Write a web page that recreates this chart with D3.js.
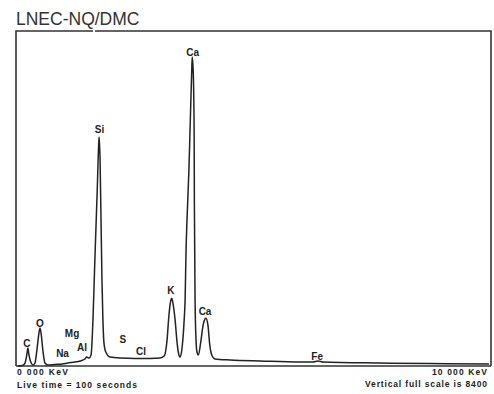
<!DOCTYPE html>
<html>
<head>
<meta charset="utf-8">
<script src="https://cdn.jsdelivr.net/npm/d3@7"></script>
<style>
  body { margin: 0; background: #fff; }
  svg { display: block; }
  .lbl { font-family: "Liberation Sans", Arial, sans-serif; font-weight: bold; font-size: 10px; fill: #222; }
  .foot { font-family: "Liberation Sans", Arial, sans-serif; font-weight: bold; font-size: 8.5px; fill: #222; }
</style>
</head>
<body>
<div id="chart"></div>
<script>
// spectrum: energy (keV) and counts
var energy = [0.04, 0.13, 0.19, 0.23, 0.25, 0.27, 0.32, 0.36, 0.40, 0.44, 0.48, 0.505, 0.53, 0.57, 0.61,
  0.67, 0.82, 0.97, 1.09, 1.24, 1.35, 1.45, 1.49, 1.54, 1.58, 1.62, 1.66, 1.71, 1.74, 1.75, 1.77, 1.79,
  1.81, 1.83, 1.85, 1.89, 1.98, 2.19, 2.51, 2.82, 3.03, 3.12, 3.18, 3.22, 3.26, 3.28, 3.30, 3.35, 3.39,
  3.43, 3.45, 3.49, 3.54, 3.56, 3.58, 3.60, 3.64, 3.67, 3.70, 3.71, 3.73, 3.75, 3.755, 3.77, 3.79, 3.81,
  3.84, 3.895, 3.94, 3.98, 4.00, 4.04, 4.08, 4.13, 4.19, 4.51, 5.14, 5.98, 6.25, 6.36, 6.46, 7.66, 8.72, 9.96];
var counts = [0, 12, 75, 300, 450, 300, 75, 25, 75, 400, 800, 950, 800, 350, 75,
  25, 40, 50, 75, 100, 125, 175, 225, 200, 275, 1150, 2650, 4400, 5540, 5740, 5160, 3660,
  2150, 1150, 600, 350, 225, 200, 190, 190, 200, 250, 650, 1280, 1650, 1700, 1600, 1150, 600,
  275, 225, 400, 1150, 1650, 2900, 3660, 4910, 6170, 7420, 7750, 7420, 5920, 4160, 1650, 650, 350,
  275, 650, 1030, 1180, 1200, 1030, 525, 250, 175, 150, 125, 100, 100, 125, 100, 75, 60, 50];

// element labels: name, energy of label centre, count at label baseline
var elements = ["C", "O", "Na", "Mg", "Al", "Si", "S", "Cl", "K", "Ca", "Ca", "Fe"];
var elemEnergy = [0.23, 0.505, 0.98, 1.18, 1.39, 1.76, 2.25, 2.63, 3.26, 3.72, 3.98, 6.34];
var elemCount = [475, 975, 225, 725, 375, 5840, 575, 275, 1800, 7770, 1280, 150];

var xDomain = [0, 10];
var yDomain = [0, 8400];

var width = 494, height = 394;

var svg = d3.select("#chart")
  .append("svg")
    .attr("width", width)
    .attr("height", height);

var x = d3.scaleLinear().domain(xDomain).range([16, 491]);
var y = d3.scaleLinear().domain(yDomain).range([366, 31]);

// title
svg.append("text")
  .attr("x", 16)
  .attr("y", 25)
  .text("LNEC-NQ/DMC")
  .attr("font-family", "'Liberation Sans', Arial, sans-serif")
  .attr("font-size", 17.5)
  .attr("fill", "#333");

// frame (top has a small break like the scan)
var frame = svg.append("g")
  .attr("stroke", "#333")
  .attr("stroke-width", 1.6)
  .attr("fill", "none");
frame.append("path")
  .attr("d", "M" + x(0) + "," + y(0) + "V" + y(8400) + "H" + (x(0) + 77));
frame.append("path")
  .attr("d", "M" + (x(0) + 79) + "," + y(8400) + "H" + x(10) + "V" + y(0));
frame.append("line")
  .attr("x1", x(0)).attr("x2", x(10))
  .attr("y1", y(0)).attr("y2", y(0));

// spectrum
var points = energy.map(function(e, i) { return [e, counts[i]]; });
var line = d3.line()
  .x(function(d) { return x(d[0]); })
  .y(function(d) { return y(d[1]); })
  .curve(d3.curveMonotoneX);

svg.append("path")
  .datum(points)
  .attr("d", line)
  .attr("fill", "none")
  .attr("stroke", "#222")
  .attr("stroke-width", 1.5);

// element labels
svg.append("g")
  .selectAll("text")
  .data(elements)
  .enter()
  .append("text")
    .attr("class", "lbl")
    .attr("text-anchor", "middle")
    .attr("x", function(d, i) { return x(elemEnergy[i]); })
    .attr("y", function(d, i) { return y(elemCount[i]); })
    .text(function(d) { return d; });

// footer texts
svg.append("text").attr("class", "foot")
  .attr("x", 17).attr("y", 375)
  .attr("textLength", 51)
  .text("0 000 KeV");
svg.append("text").attr("class", "foot")
  .attr("x", 17).attr("y", 388)
  .attr("textLength", 120)
  .text("Live time = 100 seconds");
svg.append("text").attr("class", "foot")
  .attr("x", 432).attr("y", 375)
  .attr("textLength", 55)
  .text("10 000 KeV");
svg.append("text").attr("class", "foot")
  .attr("x", 365).attr("y", 387)
  .attr("textLength", 122)
  .text("Vertical full scale is 8400");
</script>
</body>
</html>
